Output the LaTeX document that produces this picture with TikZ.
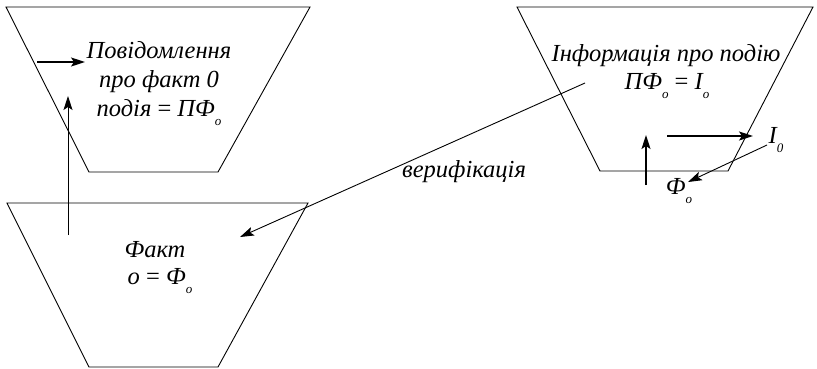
\documentclass[tikz,border=0pt]{standalone}
\usepackage{fontspec}
\setmainfont{Liberation Serif}
\usetikzlibrary{arrows.meta}
\newcommand{\lowsub}[1]{\raisebox{-0.8ex}{\fontsize{13}{13}\selectfont #1}}
\begin{document}
\begin{tikzpicture}[x=1pt,y=-1pt,
  trap/.style={draw=black,line width=0.9pt,line join=miter},
  arr/.style={draw=black,line width=0.9pt,-{Stealth[length=14pt,width=9pt,inset=3pt]}},
  thickarr/.style={draw=black,line width=1.6pt,-{Stealth[length=14pt,width=9pt,inset=3pt]}},
  lbl/.style={font=\fontsize{24.5}{29}\selectfont\itshape,anchor=base,inner sep=0pt}]
\useasboundingbox (0,0) rectangle (817,368);
% trapezoids
\draw[trap] (6,7) -- (310,7) -- (218,172) -- (89,172) -- cycle;
\draw[trap] (7,203) -- (308,203) -- (218,367) -- (89,367) -- cycle;
\draw[trap] (517,7) -- (813,7) -- (728,171) -- (600,171) -- cycle;
% texts top-left
\node[lbl] (m1) at (159,58) {Повідомлення};
\node[lbl] (m2) at (159,87) {про факт 0};
\node[lbl] (m3) at (159,116) {подія {\upshape =} ПФ\lowsub{о}};
% bottom-left
\node[lbl] (f1) at (155,257) {Факт};
\node[lbl] (f2) at (160,284) {о {\upshape =} Ф\lowsub{о}};
% right
\node[lbl] (i1) at (666,61) {Інформація про подію};
\node[lbl] (i2) at (667,89) {ПФ\lowsub{о} {\upshape =} I\lowsub{о}};
\node[lbl] (v) at (464,177) {верифікація};
\node[lbl] (I0) at (776,143) {I\lowsub{0}};
\node[lbl] (F0) at (679,194) {Ф\lowsub{о}};
% arrow coordinates
\coordinate (a1s) at (37,62);  \coordinate (a1e) at (85,62);
\coordinate (a2s) at (68,235); \coordinate (a2e) at (68,96);
\coordinate (vs) at (585,83);  \coordinate (ve) at (240,237);
\coordinate (b1s) at (646,185); \coordinate (b1e) at (646,135);
\coordinate (b2s) at (667,136); \coordinate (b2e) at (753,136);
\coordinate (b3s) at (767,145); \coordinate (b3e) at (688,182);
\draw[thickarr] (a1s) -- (a1e);
\draw[arr] (a2s) -- (a2e);
\draw[arr] (vs) -- (ve);
\draw[thickarr] (b1s) -- (b1e);
\draw[thickarr] (b2s) -- (b2e);
\draw[arr] (b3s) -- (b3e);
\end{tikzpicture}
\end{document}
